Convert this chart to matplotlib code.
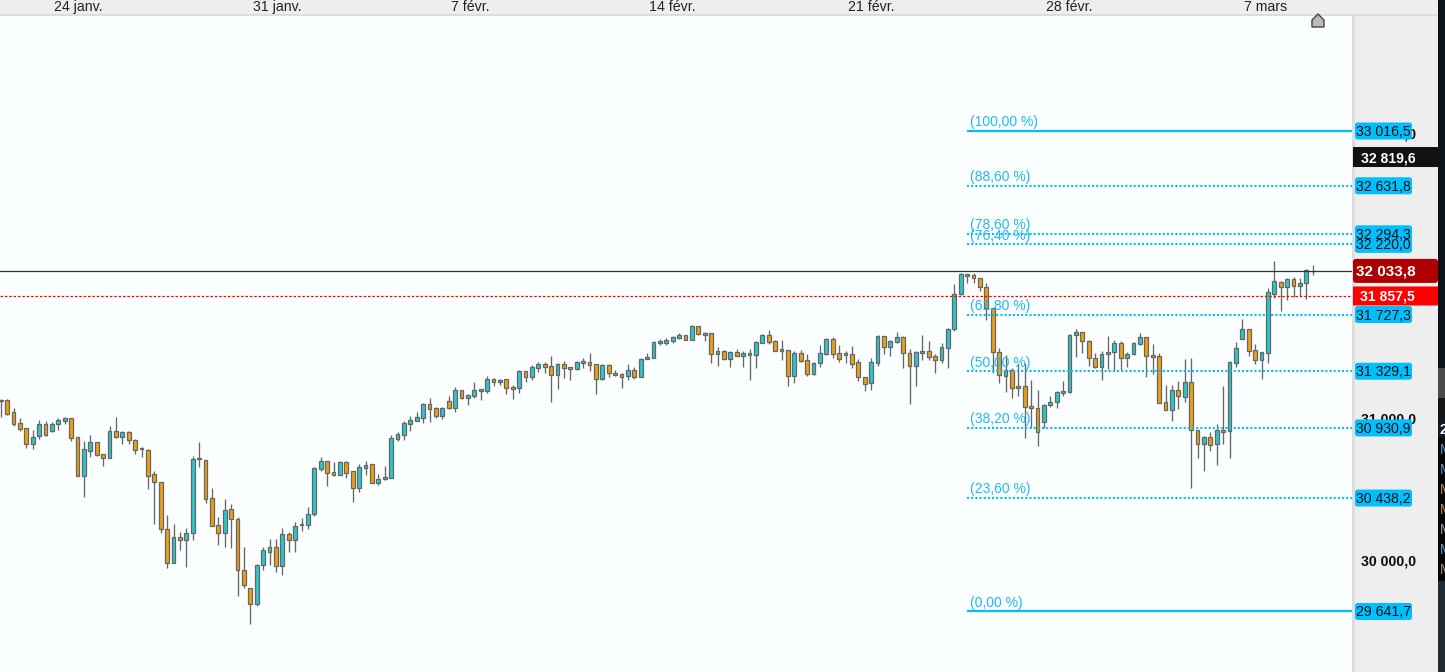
import matplotlib
matplotlib.use("Agg")
import matplotlib.pyplot as plt
from matplotlib.patches import FancyBboxPatch, Polygon, Rectangle
from matplotlib.transforms import IdentityTransform

plt.rcParams["font.family"] = ["Liberation Sans", "DejaVu Sans"]

# candles: open, high, low, close
opens = [31118,31127,31040,30963,30928,30820,30872,30956,30912,30956,30982,30998,30865,30596,30771,30830,30745,30722,30907,30870,
         30900,30844,30781,30774,30605,30549,30219,29984,30162,30146,30190,30710,30703,30436,30247,30190,30359,30289,29931,29804,
         29692,29966,30062,30092,29959,30183,30141,30247,30247,30324,30645,30696,30619,30603,30689,30626,30511,30652,30675,30546,
         30574,30581,30855,30884,30961,30982,31003,31097,31069,31017,31118,31073,31195,31143,31157,31192,31192,31272,31251,31272,
         31216,31214,31328,31291,31354,31378,31364,31305,31378,31356,31347,31389,31392,31378,31277,31370,31314,31307,31298,31335,
         31291,31417,31424,31530,31530,31544,31565,31581,31551,31644,31586,31595,31452,31469,31417,31462,31438,31445,31445,31530,
         31581,31539,31483,31476,31298,31455,31406,31312,31389,31452,31553,31455,31445,31448,31392,31291,31249,31389,31574,31502,
         31537,31567,31460,31368,31460,31469,31434,31410,31490,31623,31869,32000,32003,31982,31918,31771,31462,31298,31340,31223,
         31223,31083,31069,30975,31090,31111,31179,31181,31581,31602,31539,31420,31361,31448,31462,31525,31420,31448,31518,31567,
         31441,31434,31111,31059,31195,31150,31251,30916,30820,30865,30820,30916,30907,31389,31558,31623,31476,31410,31459,31874,
         31953,31923,31975,31930,31946,32033]
highs = [31132,31134,31071,31001,30928,30916,30987,30980,30970,31001,31008,30998,30865,30839,30879,30830,30745,30942,31008,30907,
         30907,30851,30795,30781,30626,30549,30319,30256,30197,30228,30734,30832,30703,30509,30305,30432,30397,30305,30094,29804,
         29973,30094,30151,30151,30226,30197,30270,30298,30375,30656,30727,30696,30692,30696,30696,30626,30675,30699,30675,30607,
         30663,30881,30902,30980,31012,31043,31106,31139,31076,31076,31153,31218,31195,31167,31253,31202,31293,31279,31272,31272,
         31230,31335,31328,31370,31392,31392,31434,31385,31399,31356,31399,31420,31457,31378,31378,31378,31335,31314,31378,31356,
         31422,31455,31539,31556,31560,31577,31595,31581,31651,31644,31602,31595,31497,31476,31469,31485,31469,31485,31539,31588,
         31619,31546,31548,31476,31469,31478,31450,31396,31513,31560,31567,31513,31470,31506,31413,31291,31420,31581,31574,31548,
         31605,31574,31483,31469,31584,31541,31450,31525,31630,31942,32017,32010,32017,31982,31947,31771,31490,31441,31354,31378,
         31389,31268,31197,31097,31155,31190,31261,31588,31623,31602,31546,31455,31469,31574,31548,31539,31462,31532,31595,31567,
         31520,31455,31232,31232,31260,31415,31422,30916,30872,30902,30958,31225,31399,31532,31696,31623,31520,31462,31914,32103,
         31960,31982,31989,31984,32047,32075]
lows = [31010,31022,30947,30912,30790,30783,30855,30877,30905,30916,30958,30841,30596,30446,30727,30736,30663,30722,30862,30818,
        30818,30748,30727,30502,30256,30193,29947,29984,30073,29954,30144,30656,30404,30244,30109,30094,30087,29750,29807,29554,
        29682,29933,29968,29919,29898,30059,30059,30207,30221,30312,30631,30523,30596,30603,30579,30411,30481,30600,30546,30530,
        30565,30581,30841,30846,30909,30982,30968,30972,31001,30994,31061,31043,31136,31094,31143,31127,31178,31225,31235,31169,
        31134,31176,31253,31270,31324,31317,31113,31204,31282,31268,31338,31352,31331,31169,31268,31288,31298,31211,31268,31277,
        31291,31417,31424,31513,31513,31527,31558,31551,31551,31586,31541,31387,31366,31410,31359,31438,31359,31268,31352,31530,
        31523,31474,31406,31225,31246,31396,31298,31305,31359,31445,31422,31396,31387,31354,31260,31190,31197,31366,31450,31436,
        31525,31352,31099,31225,31408,31408,31317,31387,31352,31612,31865,31949,31951,31893,31689,31319,31249,31183,31141,31155,
        30863,30933,30804,30933,31076,31071,31157,31174,31429,31460,31366,31354,31268,31345,31338,31338,31359,31445,31511,31291,
        31312,31108,31059,30980,31064,31113,30509,30720,30628,30769,30670,30818,30720,31359,31555,31436,31380,31275,31387,31843,
        31752,31829,31850,31857,31836,32005]
closes = [31125,31031,30961,30926,30820,30865,30956,30883,30956,30984,30998,30862,30596,30781,30830,30743,30722,30907,30870,30900,
          30844,30778,30788,30596,30549,30219,29984,30162,30146,30190,30710,30717,30434,30244,30190,30352,30289,29931,29825,29692,
          29966,30071,30092,29959,30183,30141,30240,30254,30324,30647,30696,30617,30603,30689,30617,30511,30654,30668,30546,30570,
          30584,30858,30886,30963,30984,31005,31097,31066,31017,31069,31073,31195,31143,31160,31195,31202,31272,31251,31265,31214,
          31207,31328,31291,31356,31378,31361,31305,31378,31354,31347,31392,31399,31375,31277,31370,31314,31305,31291,31335,31291,
          31413,31427,31532,31539,31546,31567,31581,31551,31644,31593,31595,31452,31469,31417,31462,31438,31455,31455,31532,31581,
          31537,31474,31474,31298,31455,31403,31312,31389,31455,31553,31452,31417,31455,31382,31291,31242,31392,31574,31502,31539,
          31567,31460,31368,31462,31469,31431,31410,31497,31623,31869,32010,32010,31982,31918,31771,31462,31305,31340,31209,31214,
          31076,31069,30905,31090,31111,31181,31188,31581,31602,31539,31420,31361,31448,31462,31525,31420,31448,31525,31567,31434,
          31431,31108,31059,31195,31157,31251,30919,30820,30865,30813,30916,30905,31392,31490,31623,31474,31410,31462,31883,31960,
          31923,31975,31930,31946,32038,32034]

# dates on the top axis
date_pos = [12.05, 43.2, 73.4, 105, 136.1, 167, 197.6]
date_labels = ["24 janv.", "31 janv.", "7 févr.", "14 févr.", "21 févr.", "28 févr.", "7 mars"]

# fibonacci retracement
fib_prices = [33016.5, 32631.8, 32294.3, 32220.0, 31727.3, 31329.1, 30930.9, 30438.2, 29641.7]
fib_names = ["(100,00 %)", "(88,60 %)", "(78,60 %)", "(76,40 %)", "(61,80 %)", "(50,00 %)", "(38,20 %)", "(23,60 %)", "(0,00 %)"]
fib_tags = ["33 016,5", "32 631,8", "32 294,3", "32 220,0", "31 727,3", "31 329,1", "30 930,9", "30 438,2", "29 641,7"]
fib_start = 150.9

last_price = 32033.8
red_price = 31857.5
black_price = 32819.6
axis_ticks = [33000, 31000, 30000]
axis_tick_labels = ["33 000,0", "31 000,0", "30 000,0"]

# cut off letters on the dark strip at the right edge
strip_letters = ["2", "M", "M", "M", "M", "M", "M", "M"]
strip_colors = ["#ffffff", "#5f8fc9", "#5f8fc9", "#b98a50", "#b98a50", "#9a9a9a", "#5f9ad0", "#a08a70"]

W, H = 1445, 672
UP = "#2cc7ca"
DOWN = "#ee9f12"
EDGE = "#666666"
FIB = "#00bfff"
BG = "#fbffff"
PANEL = "#eeeeee"

fig = plt.figure(figsize=(W / 100, H / 100), dpi=100, facecolor=PANEL)
ax = fig.add_axes([0, 0, 1352 / W, (H - 15) / H], facecolor=BG)
ax.set_xlim(-0.12, 211.13)
ax.set_ylim(29216.5, 33831.2)
for s in ax.spines.values():
    s.set_visible(False)

ax.xaxis.tick_top()
ax.set_xticks(date_pos)
ax.set_xticklabels(date_labels, fontsize=10.2, color="#222222")
ax.tick_params(axis="x", length=0, pad=0.5)
ax.yaxis.tick_right()
ax.set_yticks(axis_ticks)
ax.set_yticklabels(axis_tick_labels, fontsize=10.2, fontweight="bold", color="#111111")
ax.tick_params(axis="y", length=0, pad=6.2)

xs = list(range(len(opens)))
ax.vlines(xs, lows, highs, color=EDGE, lw=0.95, zorder=2)
for i in xs:
    col = UP if closes[i] >= opens[i] else DOWN
    lo = min(opens[i], closes[i])
    ax.bar(i, abs(closes[i] - opens[i]), bottom=lo, width=0.6, color=col, edgecolor=EDGE, linewidth=0.9, zorder=3)

ax.axhline(last_price, color="#333333", lw=0.9, zorder=4)
ax.axhline(red_price, color="#ff0000", lw=0.9, ls=(0, (2, 1.5)), zorder=4)

for price, name in zip(fib_prices, fib_names):
    solid = name in ("(100,00 %)", "(0,00 %)")
    ax.hlines(price, fib_start, 211.13, color=FIB, lw=1.6 if solid else 1.5, ls="-" if solid else (0, (1, 1)), zorder=5)
    ax.annotate(name, (fib_start, price), xytext=(2.2, 1.2), textcoords="offset points", color="#20b9f5",
                fontsize=10.0, va="bottom", ha="left", zorder=6)


# panels, placed in pixels from the top left
def frame(x, y, w, h, color, zorder=1):
    fig.add_artist(Rectangle((x / W, 1 - (y + h) / H), w / W, h / H, transform=fig.transFigure,
                             facecolor=color, edgecolor="none", zorder=zorder))


frame(0, 14, 1438, 2, "#dddddd")
frame(1352, 15, 3, 657, "#dddddd")
frame(1438, 0, 7, 368, "#0b1219")
frame(1438, 368, 7, 30, "#4a4a4a")
frame(1438, 398, 7, 23, "#151515")
frame(1438, 421, 7, 17, "#0d1c28")
frame(1438, 438, 7, 143, "#050505")
frame(1438, 581, 7, 91, "#1f2a33")

for k, (letter, col) in enumerate(zip(strip_letters, strip_colors)):
    fig.text(1440 / W, 1 - (430 + 20 * k) / H, letter, color=col, fontsize=10, ha="left", va="center",
             fontweight="bold" if k == 0 else "normal", zorder=2)


def tag(price, text, x0, x1, face, color, bold, height, size, text_x, rounding, shift=0):
    y_disp = ax.transData.transform((0, price))[1] + shift
    box = FancyBboxPatch((x0, y_disp - height / 2), x1 - x0, height, transform=IdentityTransform(),
                         boxstyle="round,pad=0,rounding_size=%s" % rounding, facecolor=face, edgecolor="none", zorder=8)
    fig.add_artist(box)
    fig.text(text_x / W, (y_disp - 1) / H, text, color=color, fontsize=size, fontweight="bold" if bold else "normal",
             ha="center", va="center", zorder=9)


tag(black_price, "32 819,6", 1353, 1438, "#111111", "#ffffff", True, 20, 10.1, 1388, 0.01, shift=2)
tag(last_price, "32 033,8", 1353, 1438, "#ae0000", "#ffffff", True, 24, 11, 1385.5, 3)
tag(red_price, "31 857,5", 1353, 1438, "#ff0000", "#ffffff", True, 19, 10.1, 1387.5, 0.01)
for price, text in zip(fib_prices, fib_tags):
    tag(price, text, 1355, 1412, FIB, "#111111", False, 17, 10.2, 1383.5, 2.5)

# home marker at the top
fig.add_artist(Polygon([(1312 / W, 1 - 27 / H), (1312 / W, 1 - 20 / H), (1318 / W, 1 - 14 / H),
                        (1324 / W, 1 - 20 / H), (1324 / W, 1 - 27 / H)], closed=True, transform=fig.transFigure,
                       facecolor="#bbbbbb", edgecolor="#444444", lw=1, zorder=9))

fig.savefig("out.png", dpi=100, facecolor=PANEL)
